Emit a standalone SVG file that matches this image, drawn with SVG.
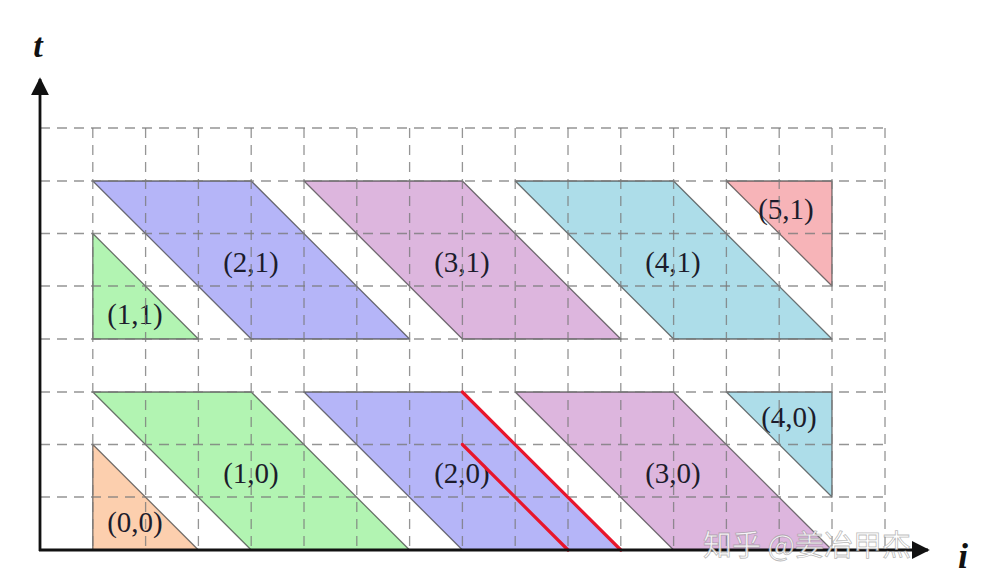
<svg xmlns="http://www.w3.org/2000/svg" width="1004" height="582" viewBox="0 0 1004 582">
<style>
.cell{stroke:#3a3a3a;stroke-opacity:0.7;stroke-width:1.3;stroke-linejoin:round}
.grid line{stroke:#7a7a7a;stroke-opacity:0.8;stroke-width:1.3;stroke-dasharray:10,7}
.lbl{font-family:"Liberation Serif","Times New Roman",serif;font-size:29px;fill:#1c1c2c;text-anchor:middle}
.ax{font-family:"Liberation Serif","Times New Roman",serif;font-style:italic;font-weight:bold;fill:#111}
.red{stroke:#e8162c;stroke-width:3.2;stroke-linecap:round}
</style>
<defs>
<marker id="arr" viewBox="0 0 10 10" refX="9" refY="5" markerWidth="6.5" markerHeight="6.5" markerUnits="strokeWidth" orient="auto">
<path d="M0,0 L10,5 L0,10 Z" fill="#111"/>
</marker>
</defs>
<rect width="1004" height="582" fill="#fff"/>
<g id="cells">
<g id="n00"><polygon class="cell" fill="#fccfae" points="92.8,444.5 92.8,550 198.4,550"/><text class="lbl" x="135" y="532">(0,0)</text></g>
<g id="n10"><polygon class="cell" fill="#b2f4b2" points="92.8,392 251.2,392 409.6,550 251.2,550"/><text class="lbl" x="251" y="483">(1,0)</text></g>
<g id="n20"><polygon class="cell" fill="#b5b5f8" points="304,392 462.4,392 620.8,550 462.4,550"/><text class="lbl" x="462" y="483">(2,0)</text></g>
<g id="n30"><polygon class="cell" fill="#ddb6de" points="515.2,392 673.6,392 832,550 673.6,550"/><text class="lbl" x="673" y="483">(3,0)</text></g>
<g id="n40"><polygon class="cell" fill="#addde9" points="726.4,392 832,392 832,497"/><text class="lbl" x="789" y="427">(4,0)</text></g>
<g id="n11"><polygon class="cell" fill="#b2f4b2" points="92.8,233.5 92.8,339 198.4,339"/><text class="lbl" x="135" y="324">(1,1)</text></g>
<g id="n21"><polygon class="cell" fill="#b5b5f8" points="92.8,181 251.2,181 409.6,339 251.2,339"/><text class="lbl" x="251" y="272">(2,1)</text></g>
<g id="n31"><polygon class="cell" fill="#ddb6de" points="304,181 462.4,181 620.8,339 462.4,339"/><text class="lbl" x="462" y="272">(3,1)</text></g>
<g id="n41"><polygon class="cell" fill="#addde9" points="515.2,181 673.6,181 832,339 673.6,339"/><text class="lbl" x="673" y="272">(4,1)</text></g>
<g id="n51"><polygon class="cell" fill="#f7b4b8" points="726.4,181 832,181 832,286"/><text class="lbl" x="786" y="219">(5,1)</text></g>
</g>
<g class="grid" id="grid">
<line x1="40" y1="128" x2="885" y2="128"/>
<line x1="40" y1="181" x2="885" y2="181"/>
<line x1="40" y1="233.5" x2="885" y2="233.5"/>
<line x1="40" y1="286" x2="885" y2="286"/>
<line x1="40" y1="339" x2="885" y2="339"/>
<line x1="40" y1="392" x2="885" y2="392"/>
<line x1="40" y1="444.5" x2="885" y2="444.5"/>
<line x1="40" y1="497" x2="885" y2="497"/>
<line x1="92.8" y1="128" x2="92.8" y2="550"/>
<line x1="145.6" y1="128" x2="145.6" y2="550"/>
<line x1="198.4" y1="128" x2="198.4" y2="550"/>
<line x1="251.2" y1="128" x2="251.2" y2="550"/>
<line x1="304" y1="128" x2="304" y2="550"/>
<line x1="356.8" y1="128" x2="356.8" y2="550"/>
<line x1="409.6" y1="128" x2="409.6" y2="550"/>
<line x1="462.4" y1="128" x2="462.4" y2="550"/>
<line x1="515.2" y1="128" x2="515.2" y2="550"/>
<line x1="568" y1="128" x2="568" y2="550"/>
<line x1="620.8" y1="128" x2="620.8" y2="550"/>
<line x1="673.6" y1="128" x2="673.6" y2="550"/>
<line x1="726.4" y1="128" x2="726.4" y2="550"/>
<line x1="779.2" y1="128" x2="779.2" y2="550"/>
<line x1="832" y1="128" x2="832" y2="550"/>
<line x1="885" y1="128" x2="885" y2="550"/>
</g>
<g id="connectors">
<line class="red" x1="462.4" y1="392" x2="620.8" y2="550"/>
<line class="red" x1="462.4" y1="444.5" x2="568" y2="550"/>
</g>
<g id="axes">
<line x1="40" y1="551" x2="40" y2="79" stroke="#111" stroke-width="2.8" marker-end="url(#arr)"/>
<line x1="39" y1="550" x2="928" y2="550" stroke="#111" stroke-width="2.8" marker-end="url(#arr)"/>
<text class="ax" x="38" y="57" font-size="34" text-anchor="middle">t</text>
<text class="ax" x="963" y="568" font-size="36" text-anchor="middle">i</text>
</g>
<text x="703" y="556" font-family="'Noto Sans CJK SC',sans-serif" font-size="29" fill="#fff" fill-opacity="0.85" stroke="#8a8a8a" stroke-opacity="0.6" stroke-width="0.8">知乎 @姜冶甲杰</text>
</svg>
